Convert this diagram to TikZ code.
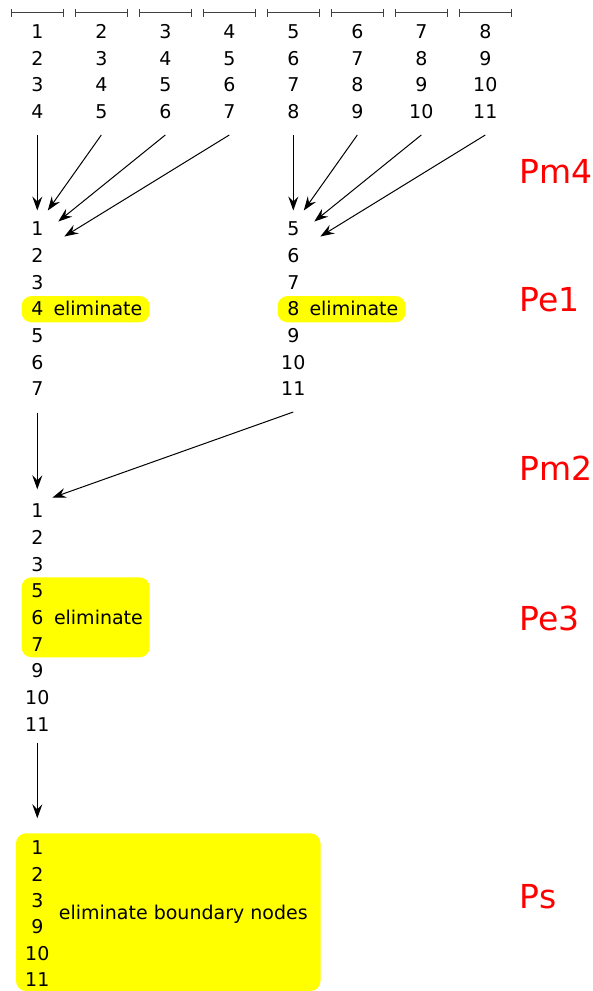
\documentclass[tikz,border=0pt]{standalone}
\usepackage{fontspec}
\setmainfont{DejaVu Sans}
\usetikzlibrary{arrows.meta}
\definecolor{hlyellow}{RGB}{255,255,0}
\definecolor{lblred}{RGB}{255,0,0}
\begin{document}
\begin{tikzpicture}[x=1pt,y=-1pt,
  num/.style={font=\fontsize{19}{19}\selectfont, inner sep=0pt, anchor=base},
  elim/.style={font=\fontsize{19}{19}\selectfont, inner sep=0pt, anchor=base west},
  lbl/.style={font=\fontsize{33}{33}\selectfont, text=lblred, inner sep=0pt, anchor=base west},
  hl/.style={fill=hlyellow, rounded corners=10pt},
  conn/.style={-{Stealth[length=14pt,width=10pt,inset=5pt]}, line width=1pt},
  bar/.style={draw=black!75, line width=1pt, {Bar[width=8pt]}-{Bar[width=8pt]}}]
\useasboundingbox (0,0) rectangle (593,991);
% highlight boxes
\fill[hl] (21.6,296) rectangle (149.6,322.3);
\fill[hl] (277.6,296) rectangle (405.6,322.3);
\fill[hl] (21.6,577.3) rectangle (149.6,657.3);
\fill[hl] (16,833.3) rectangle (320.5,991);
% top columns
\foreach \k in {0,...,7}{
  \pgfmathsetmacro\cx{37.3+64*\k}
  \draw[bar] (\cx-26.7,12.5) -- (\cx+26.7,12.5);
  \foreach \i in {0,...,3}{
    \pgfmathtruncatemacro\v{\k+1+\i}
    \node[num] (t\k-\i) at (\cx, 38.4+26.67*\i) {\v};
  }
  \coordinate (s\k) at (\cx, 135);
}
% Pe1 columns
\foreach \v [count=\i from 0] in {1,...,7}{
  \node[num] (a\v) at (37.3, 235.9+26.67*\i) {\v};
}
\foreach \v [count=\i from 0] in {5,...,11}{
  \node[num] (b\v) at (293.3, 235.9+26.67*\i) {\v};
}
\node[elim] (ea) at (53.3, 315.9) {eliminate};
\node[elim] (eb) at (309.3, 315.9) {eliminate};
% arrow ends Pm4
\coordinate (e0) at (37.3,210.5);
\coordinate (e1) at (47.8,210.5);
\coordinate (e2) at (58.3,221.5);
\coordinate (e3) at (64.3,236.5);
\coordinate (e4) at (293.3,210.5);
\coordinate (e5) at (303.8,210.5);
\coordinate (e6) at (314.3,221.5);
\coordinate (e7) at (320.3,236.5);
\foreach \k in {0,...,7}{ \draw[conn] (s\k) -- (e\k); }
% Pm2
\coordinate (p1) at (37.3,412.7);
\coordinate (p2) at (293.3,412);
\coordinate (q1) at (37.3,489.3);
\coordinate (q2) at (52.3,497.7);
\draw[conn] (p1) -- (q1);
\draw[conn] (p2) -- (q2);
\foreach \v [count=\i from 0] in {1,2,3,5,6,7,9,10,11}{
  \node[num] (c\v) at (37.3, 517.9+26.67*\i) {\v};
}
\node[elim] (ec) at (53.8, 624.9) {eliminate};
% Ps
\coordinate (r1) at (37.3,742.7);
\coordinate (r2) at (37.3,818.3);
\draw[conn] (r1) -- (r2);
\foreach \v [count=\i from 0] in {1,2,3,9,10,11}{
  \node[num] (d\v) at (37.3, 854.6+26.45*\i) {\v};
}
\node[elim] (ed) at (58.7, 919.2) {eliminate boundary nodes};
% stage labels
\node[lbl] (Pm4) at (519.5,183.7) {Pm4};
\node[lbl] (Pe1) at (519.5,311) {Pe1};
\node[lbl] (Pm2) at (519.5,480.3) {Pm2};
\node[lbl] (Pe3) at (519.5,630.3) {Pe3};
\node[lbl] (Ps) at (519.5,908.7) {Ps};
\end{tikzpicture}
\end{document}
